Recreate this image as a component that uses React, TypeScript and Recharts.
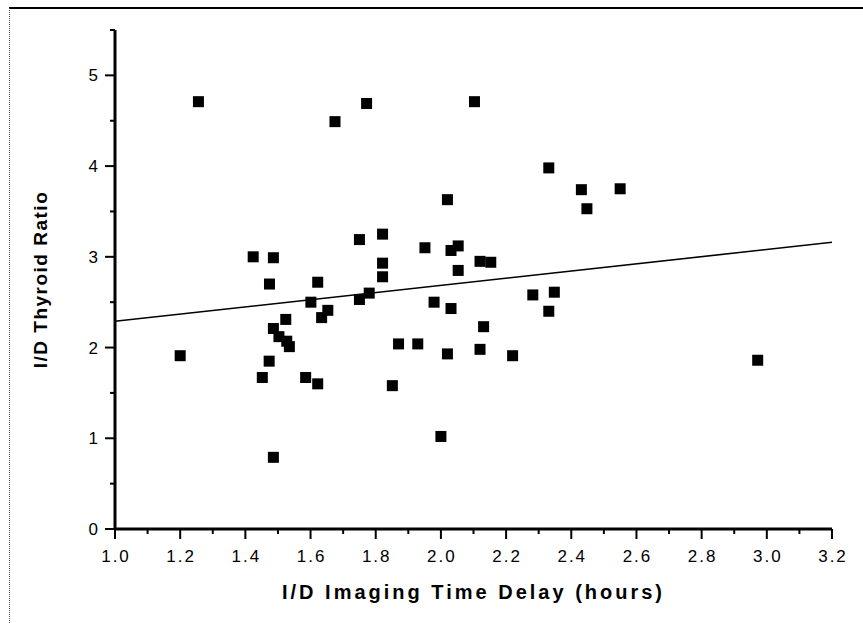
import React from 'react'
import { ScatterChart, Scatter, XAxis, YAxis, ReferenceLine } from 'recharts'

const FONT = '"Liberation Sans", Arial, Helvetica, sans-serif'

// delay (hours) vs I/D thyroid ratio
const DELAY = [
  1.20, 1.256, 1.424, 1.452, 1.473, 1.474, 1.486, 1.486, 1.486, 1.503,
  1.524, 1.527, 1.535, 1.585, 1.601, 1.622, 1.622, 1.634, 1.653, 1.675,
  1.750, 1.750, 1.772, 1.780, 1.821, 1.821, 1.821, 1.851, 1.870, 1.929,
  1.951, 1.979, 2.000, 2.020, 2.020, 2.031, 2.031, 2.053, 2.053, 2.103,
  2.120, 2.120, 2.131, 2.153, 2.220, 2.282, 2.331, 2.331, 2.348, 2.431,
  2.448, 2.550, 2.972,
]
const RATIO = [
  1.91, 4.71, 3.00, 1.67, 1.85, 2.70, 2.99, 2.21, 0.79, 2.12,
  2.31, 2.07, 2.01, 1.67, 2.50, 2.72, 1.60, 2.33, 2.41, 4.49,
  3.19, 2.53, 4.69, 2.60, 3.25, 2.93, 2.78, 1.58, 2.04, 2.04,
  3.10, 2.50, 1.02, 3.63, 1.93, 3.07, 2.43, 3.12, 2.85, 4.71,
  2.95, 1.98, 2.23, 2.94, 1.91, 2.58, 3.98, 2.40, 2.61, 3.74,
  3.53, 3.75, 1.86,
]

// linear fit endpoints
const FIT_X = [1.0, 3.2]
const FIT_Y = [2.29, 3.16]

const X_TICKS = [1.0, 1.1, 1.2, 1.3, 1.4, 1.5, 1.6, 1.7, 1.8, 1.9, 2.0, 2.1, 2.2, 2.3, 2.4, 2.5, 2.6, 2.7, 2.8, 2.9, 3.0, 3.1, 3.2]
const Y_TICKS = [0, 0.5, 1, 1.5, 2, 2.5, 3, 3.5, 4, 4.5, 5, 5.5]

const points = DELAY.map((d, i) => ({ x: d, y: RATIO[i] }))

const Square = (props: any) => {
  const { cx, cy } = props
  if (cx == null || cy == null) return null
  return <rect x={cx - 5.5} y={cy - 5.5} width={11} height={11} fill="#000" />
}

const YTick = ({ x, y, payload }: any) => {
  const major = Math.abs(payload.value - Math.round(payload.value)) < 1e-6
  return (
    <g>
      <line x1={x} x2={x - (major ? 10 : 5)} y1={y} y2={y} stroke="#000" strokeWidth={2} />
      {major && (
        <text x={x - 17} y={y} dy="0.36em" textAnchor="end" fontSize={17} fontFamily={FONT} fill="#000">
          {payload.value}
        </text>
      )}
    </g>
  )
}

const XTick = ({ x, y, payload }: any) => {
  const tenths = Math.round(payload.value * 10)
  const major = tenths % 2 === 0
  return (
    <g>
      <line x1={x} x2={x} y1={y} y2={y + (major ? 10 : 5)} stroke="#000" strokeWidth={2} />
      {major && (
        <text x={x + 1} y={y + 33} textAnchor="middle" fontSize={17} letterSpacing={2} fontFamily={FONT} fill="#000">
          {payload.value.toFixed(1)}
        </text>
      )}
    </g>
  )
}

const XTitle = ({ viewBox }: any) => (
  <text
    x={viewBox.x + viewBox.width / 2}
    y={viewBox.y + 70}
    textAnchor="middle"
    fontSize={20}
    fontWeight="bold"
    letterSpacing={3}
    fontFamily={FONT}
    fill="#000"
  >
    I/D Imaging Time Delay (hours)
  </text>
)

const YTitle = ({ viewBox }: any) => {
  const cx = viewBox.x + 40
  const cy = viewBox.y + viewBox.height / 2
  return (
    <text
      x={cx}
      y={cy}
      transform={`rotate(-90, ${cx}, ${cy})`}
      textAnchor="middle"
      dominantBaseline="central"
      fontSize={19}
      fontWeight="bold"
      letterSpacing={1.5}
      fontFamily={FONT}
      fill="#000"
    >
      I/D Thyroid Ratio
    </text>
  )
}

export default function App() {
  return (
    <div style={{ position: 'absolute', left: 0, top: 0, width: 863, height: 623, background: '#fff' }}>
      <div
        style={{
          position: 'absolute', left: 9, top: 7, right: 0, bottom: 0,
          borderTop: '2px solid #000', borderLeft: '1px dotted #555',
        }}
      />
      <ScatterChart width={863} height={623} margin={{ top: 30, right: 31, bottom: 0, left: 0 }}>
        <XAxis
          type="number"
          dataKey="x"
          domain={[1.0, 3.2]}
          ticks={X_TICKS}
          interval={0}
          height={94}
          axisLine={false}
          tickLine={false}
          tickSize={0}
          tickMargin={0}
          tick={<XTick />}
          label={{ content: <XTitle /> }}
          allowDataOverflow
        />
        <YAxis
          type="number"
          dataKey="y"
          domain={[0, 5.5]}
          ticks={Y_TICKS}
          interval={0}
          width={115}
          axisLine={false}
          tickLine={false}
          tickSize={0}
          tickMargin={0}
          tick={<YTick />}
          label={{ content: <YTitle /> }}
          allowDataOverflow
        />
        <ReferenceLine x={1.0} stroke="#000" strokeWidth={3} ifOverflow="visible" />
        <ReferenceLine y={0} stroke="#000" strokeWidth={3} ifOverflow="visible" />
        <ReferenceLine
          segment={[{ x: FIT_X[0], y: FIT_Y[0] }, { x: FIT_X[1], y: FIT_Y[1] }]}
          stroke="#000"
          strokeWidth={1.6}
          ifOverflow="visible"
        />
        <Scatter data={points} shape={<Square />} isAnimationActive={false} />
      </ScatterChart>
    </div>
  )
}
